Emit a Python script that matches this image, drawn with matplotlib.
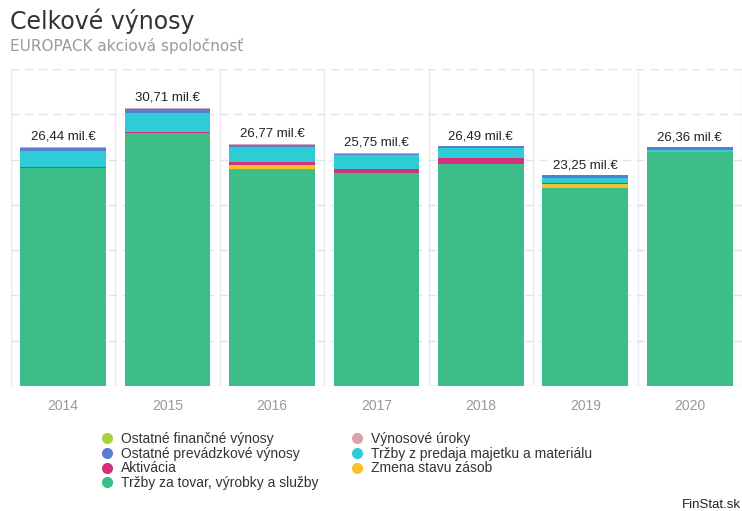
import matplotlib
matplotlib.use("Agg")
import matplotlib.pyplot as plt
from matplotlib.lines import Line2D
import numpy as np

plt.rcParams['font.family'] = ['Liberation Sans', 'DejaVu Sans']

years = ['2014', '2015', '2016', '2017', '2018', '2019', '2020']
totals_lbl = ['26,44 mil.€', '30,71 mil.€', '26,77 mil.€', '25,75 mil.€',
              '26,49 mil.€', '23,25 mil.€', '26,36 mil.€']

# stacked series (mil. €), bottom to top
trzby_tovar = [24.05, 27.90, 24.00, 23.55, 24.55, 21.85, 25.81]
zmena_zasob = [0.00, 0.00, 0.45, 0.00, 0.00, 0.45, 0.00]
aktivacia = [0.10, 0.12, 0.25, 0.45, 0.65, 0.10, 0.00]
trzby_majetok = [1.80, 2.15, 1.65, 1.50, 1.05, 0.55, 0.25]
ostatne_prev = [0.35, 0.45, 0.30, 0.15, 0.24, 0.30, 0.30]
vynosove_uroky = [0.04, 0.03, 0.02, 0.02, 0.00, 0.00, 0.00]
ostatne_fin = [0.10, 0.06, 0.10, 0.08, 0.00, 0.00, 0.00]

series = [
    ('Tržby za tovar, výrobky a služby', trzby_tovar, '#3dbd88'),
    ('Zmena stavu zásob', zmena_zasob, '#f7c12b'),
    ('Aktivácia', aktivacia, '#d4307c'),
    ('Tržby z predaja majetku a materiálu', trzby_majetok, '#2ecdd6'),
    ('Ostatné prevádzkové výnosy', ostatne_prev, '#5a7dd4'),
    ('Výnosové úroky', vynosove_uroky, '#dba3ab'),
    ('Ostatné finančné výnosy', ostatne_fin, '#a7d23a'),
]

fig = plt.figure(figsize=(7.42, 5.11), dpi=100)
ax = fig.add_axes([10.7 / 742, (511 - 386) / 511, (742 - 10.7) / 742, (386 - 69) / 511])

x = np.arange(len(years))
bottom = np.zeros(len(years))
for name, vals, col in series:
    v = np.array(vals)
    ax.bar(x, v, bottom=bottom, width=0.82, color=col, zorder=3, linewidth=0)
    bottom += v

for xi, tot, lbl in zip(x, bottom, totals_lbl):
    ax.text(xi, tot + 0.45, lbl, ha='center', va='bottom', fontsize=9.5, color='#222222', zorder=4)

ax.set_xlim(-0.5, len(years) - 0.5)
ax.set_ylim(0, 35)
ax.set_yticks(np.arange(0, 36, 5))
ax.yaxis.grid(True, linestyle=(0, (6, 4)), color='#e3e3e3', linewidth=1, zorder=0)
for b in np.arange(-0.5, len(years) + 0.5, 1):
    ax.axvline(b, color='#ececec', linewidth=1, zorder=0)
ax.axhline(0, color='#e6e6e6', linewidth=1, zorder=1)
for s in ax.spines.values():
    s.set_visible(False)
ax.set_xticks(x)
ax.set_xticklabels(years, fontsize=10, color='#9a9a9a')
ax.tick_params(axis='x', length=0, pad=9)
ax.tick_params(axis='y', length=0, labelleft=False)

fig.text(10 / 742, 1 - 21 / 511, 'Celkové výnosy', fontsize=17, color='#333333', va='center', ha='left',
         family=['DejaVu Sans'])
fig.text(10 / 742, 1 - 46 / 511, 'EUROPACK akciová spoločnosť', fontsize=11, color='#9a9a9a', va='center',
         ha='left', family=['DejaVu Sans'])
fig.text(741 / 742, 1 - 505 / 511, 'FinStat.sk', fontsize=9.5, color='#222222', va='center', ha='right')

order = [6, 4, 2, 0, 5, 3, 1]
handles = [Line2D([], [], marker='o', linestyle='none', markersize=7,
                  markerfacecolor=series[i][2], markeredgecolor=series[i][2]) for i in order]
labels = [series[i][0] for i in order]
fig.legend(handles, labels, ncol=2, loc='upper left', bbox_to_anchor=(100 / 742, 1 - 432 / 511),
           frameon=False, fontsize=10, handletextpad=0.5, handlelength=1.0,
           labelspacing=0.05, columnspacing=2.3, borderaxespad=0, borderpad=0,
           labelcolor='#333333')

fig.savefig('out.png', dpi=100)
